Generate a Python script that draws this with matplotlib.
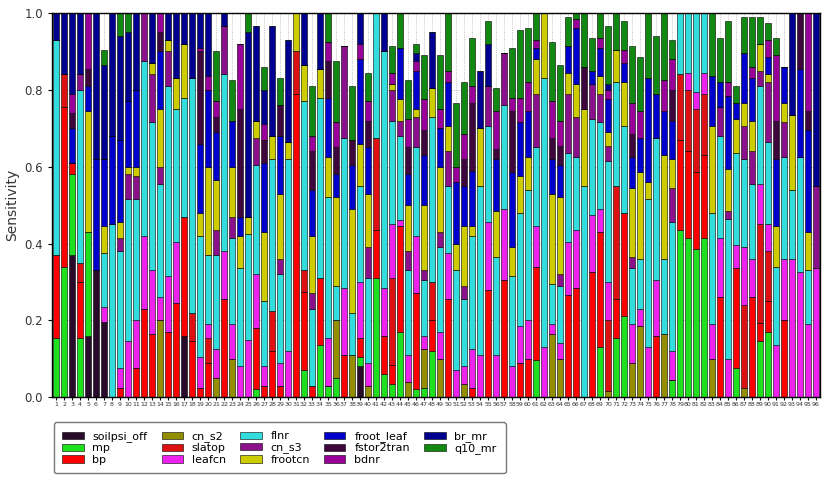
"""Stacked parameter sensitivity bars for 96 cases."""

import matplotlib
import matplotlib.pyplot as plt
import numpy as np

matplotlib.use("Agg")

N_BARS = 96
cases = np.arange(1, N_BARS + 1)

# parameter names, bottom of the stack first
params = ["soilpsi_off", "mp", "bp", "cn_s2", "slatop", "leafcn", "flnr",
          "cn_s3", "frootcn", "froot_leaf", "fstor2tran", "bdnr", "br_mr", "q10_mr"]
colors = ["#2a0a2a", "#1fe01f", "#ff0000", "#948f00", "#dd1111", "#ee22ee", "#33dddd",
          "#8b108b", "#cccc00", "#0000cc", "#3d063d", "#990099", "#000090", "#118811"]

# sensitivity of each parameter per case
soilpsi_off = [0, 0, .37, 0, .16, .33, .195, 0, 0, 0, 0, 0, 0, 0, 0, 0, .16, 0, 0, 0,
               0, 0, 0, 0, 0, 0, 0, 0, 0, 0, 0, 0, 0, 0, 0, 0, 0, 0, .08, 0,
               0, 0, 0, 0, 0, 0, 0, 0, 0, 0, 0, 0, 0, 0, 0, 0, 0, 0, 0, 0,
               0, 0, 0, 0, 0, 0, 0, 0, 0, 0, 0, 0, 0, 0, 0, 0, 0, 0, 0, 0,
               0, 0, 0, 0, 0, 0, 0, 0, 0, 0, 0, 0, 0, 0, 0, 0]
mp = [.155, .34, .21, .155, .27, 0, 0, 0, 0, 0, 0, 0, 0, 0, 0, 0, 0, 0, 0, 0,
      0, 0, 0, 0, 0, .02, 0, 0, 0, 0, 0, .07, 0, .135, .03, .05, 0, 0, .025, 0,
      .31, .06, .035, .17, 0, .02, .025, .12, 0, 0, 0, 0, 0, 0, 0, 0, 0, 0, 0, 0,
      .097, 0, 0, 0, 0, 0, 0, 0, .13, 0, .155, .21, 0, 0, 0, 0, 0, .045, .435, .415,
      .385, .415, 0, 0, 0, .075, 0, 0, .145, .17, 0, 0, 0, 0, 0, 0]
bp = [.215, .415, .03, .145, 0, 0, 0, 0, .025, 0, .075, .23, .165, 0, .17, .245, .31, .145, .025, .09,
      0, .255, 0, 0, 0, .16, .03, .12, .03, 0, .79, .205, .03, .175, 0, 0, .11, 0, .05, 0,
      .125, .10, .05, .275, 0, .25, 0, .08, 0, .255, 0, 0, .025, 0, .28, 0, .305, 0, .09, .10,
      .243, 0, 0, 0, .265, .285, 0, .325, .30, 0, .10, .27, 0, 0, 0, .16, 0, 0, .235, .225,
      .20, .215, 0, .26, 0, .26, 0, .26, .048, .08, 0, .20, 0, 0, 0, 0]
cn_s2 = [0, 0, 0, 0, 0, 0, 0, 0, 0, 0, 0, 0, 0, .20, 0, 0, 0, 0, 0, 0,
         .05, 0, .10, 0, 0, 0, 0, 0, 0, 0, 0, 0, 0, 0, 0, .15, 0, .11, 0, .03,
         0, 0, 0, 0, .04, 0, .10, 0, .10, 0, 0, .035, 0, 0, 0, 0, 0, 0, 0, 0,
         0, 0, .165, .10, 0, 0, 0, 0, 0, .015, 0, 0, .09, .185, 0, 0, .165, 0, 0, 0,
         0, 0, .10, 0, 0, 0, .025, 0, 0, 0, 0, 0, 0, 0, 0, 0]
slatop = [0, .085, 0, .05, 0, 0, 0, 0, 0, 0, 0, 0, 0, 0, 0, 0, 0, .075, 0, .065,
          0, 0, 0, 0, 0, 0, 0, .105, 0, 0, .11, .055, 0, 0, 0, 0, 0, 0, 0, 0,
          .24, 0, .225, 0, 0, 0, 0, .10, 0, 0, 0, 0, 0, 0, 0, 0, 0, 0, 0, 0,
          0, 0, 0, 0, 0, 0, 0, 0, 0, .185, .295, 0, 0, 0, 0, 0, 0, 0, .17, .16,
          .165, .16, 0, 0, 0, 0, .215, 0, .257, .13, 0, 0, 0, 0, 0, 0]
leafcn = [0, 0, 0, 0, 0, 0, .04, 0, .05, .145, .125, .19, .165, .06, .145, .16, 0, 0, .08, .035,
          .075, .125, .09, .08, .15, .14, .05, 0, .06, .12, 0, 0, 0, 0, .125, 0, .175, 0, .145, .06,
          0, .125, .14, .015, .07, .15, .035, 0, .07, .12, .07, .045, .10, .11, .175, .11, .185, .08, .095, .10,
          .105, .13, .025, .04, .14, .15, 0, .15, .06, .10, 0, 0, .10, .045, .13, .145, 0, .075, 0, .045,
          .045, .055, .09, .155, .10, .06, .15, .10, .105, .07, .135, .16, .36, .325, .19, .335]
flnr = [.56, 0, 0, .45, 0, 0, .14, .45, .305, .37, .315, .455, .385, .295, .495, .345, .31, .61, .315, .18,
        .245, .46, .225, .255, .275, .285, .17, .395, .23, .50, 0, .44, .20, .47, .365, .09, .39, .11, .25, .22,
        .325, .615, .27, .22, .22, .23, .145, .43, .22, .175, .26, .175, .295, .44, .25, .255, .27, .235, .295, .34,
        .205, .70, .105, .15, .23, .19, .55, .25, .225, .315, .27, .225, .145, .13, .385, .37, .195, .335, .16, .155,
        .205, .155, .29, .265, .365, .24, .23, .195, .255, .215, .205, .265, .18, .30, .14, 0]
cn_s3 = [0, 0, 0, .04, 0, 0, 0, 0, .035, .065, .06, .125, .125, .045, .09, 0, 0, 0, 0, 0,
         .065, .125, .055, 0, 0, .07, 0, 0, .04, 0, 0, 0, .04, 0, 0, 0, .24, 0, 0, .08,
         0, 0, .08, .04, .05, .08, .025, 0, .04, .09, 0, .035, 0, 0, .105, 0, .135, 0, 0, 0,
         .14, 0, 0, .03, .155, .105, 0, .09, .075, .04, 0, 0, .03, 0, 0, 0, 0, .09, 0, 0,
         0, 0, 0, .075, .02, 0, .085, .085, .04, .155, 0, .09, 0, 0, 0, .215]
frootcn = [0, 0, 0, 0, .315, 0, .07, 0, .04, .02, .025, 0, .03, .15, .03, .08, .14, 0, .06, .23,
           .13, 0, .13, .085, .045, .045, .18, .06, .17, .045, .10, .095, .15, .075, .105, .23, 0, .27, .11, .14,
           0, 0, .015, .055, .12, .02, .17, .075, .17, .065, .07, .155, .025, .15, 0, .12, 0, .075, .095, .085,
           .09, .17, .235, .20, .055, .085, .20, 0, .045, .035, .085, .115, .18, .225, .045, 0, .27, .075, 0, 0,
           0, 0, .225, 0, .11, .09, .06, .08, .07, .02, .105, .05, .195, 0, .10, 0]
froot_leaf = [0, 0, .09, 0, .065, .29, .175, .23, .215, .17, .20, 0, 0, .15, 0, 0, 0, 0, .18, .20,
              .125, 0, .12, .05, 0, 0, .18, 0, .15, 0, 0, 0, .12, 0, .155, .06, 0, .115, .22, .12,
              0, 0, 0, .135, .08, .10, .13, 0, .10, .115, .16, .105, .145, 0, 0, .135, 0, .195, .14, .12,
              .03, 0, .09, .085, .07, .145, 0, .035, .075, .085, 0, .05, .08, .09, .27, .115, .115, .10, 0, 0,
              0, 0, .13, .065, .19, .04, .13, .11, 0, .045, .175, .095, 0, .23, .265, 0]
fstor2tran = [0, 0, .04, 0, .045, 0, 0, 0, 0, 0, 0, 0, 0, .05, 0, 0, 0, 0, .24, 0,
              .04, 0, 0, .28, 0, 0, .06, 0, .08, 0, 0, 0, .10, 0, .095, .07, 0, .065, 0, .07,
              0, 0, 0, 0, .07, 0, .065, 0, 0, 0, 0, .07, .175, 0, 0, .025, 0, .16, 0, 0,
              0, 0, .055, .05, 0, 0, .11, 0, 0, 0, 0, 0, .06, 0, 0, 0, 0, .08, 0, 0,
              0, 0, 0, 0, 0, 0, 0, 0, 0, 0, .10, 0, 0, .145, .05, 0]
bdnr = [0, 0, .05, 0, .145, 0, 0, 0, 0, 0, 0, 0, 0, .05, 0, 0, 0, 0, .01, .035,
        .04, 0, 0, .17, 0, 0, .04, 0, 0, 0, 0, 0, .04, 0, .05, .065, 0, 0, .04, .05,
        0, 0, .03, 0, .075, .025, .08, 0, .05, .03, .04, .065, .045, 0, 0, .10, 0, .035, .065, .075,
        .02, 0, .095, .065, 0, .025, 0, 0, .025, .025, 0, .035, .08, .07, 0, 0, .08, .08, 0, 0,
        0, 0, 0, 0, .035, 0, 0, .03, 0, .045, .17, 0, 0, 0, .255, 0]
br_mr = [.07, .16, .21, .16, 0, .38, .245, .32, .27, .18, .20, 0, .13, 0, .07, .17, .08, .17, .09, .165,
         0, .035, 0, 0, .48, .245, .09, .285, 0, .265, 0, .135, 0, .145, 0, 0, 0, 0, .08, 0,
         0, .10, 0, 0, 0, .02, 0, .145, 0, 0, 0, 0, 0, .15, .11, 0, 0, 0, 0, 0,
         0, 0, 0, 0, 0, 0, 0, 0, 0, .015, 0, 0, 0, 0, 0, 0, 0, 0, 0, 0,
         0, 0, 0, 0, 0, 0, 0, 0, 0, 0, 0, 0, .265, 0, 0, .45]
q10_mr = [0, 0, 0, 0, 0, 0, .04, 0, .06, .05, 0, 0, 0, 0, 0, 0, 0, 0, 0, 0,
          .13, 0, .105, 0, .05, 0, .06, 0, .07, 0, 0, 0, .13, 0, .075, .16, 0, .14, 0, .075,
          0, 0, .07, .09, .10, .025, .115, 0, .14, .15, .165, .135, .125, 0, .06, .06, 0, .13, .175, .14,
          .07, 0, .155, .145, .075, .015, .14, .085, .065, .15, .095, .075, .15, .14, .17, .15, .175, .05, 0, 0,
          0, 0, .165, .115, .16, .045, .095, .13, .07, .045, .045, 0, 0, 0, 0, 0]

series = [soilpsi_off, mp, bp, cn_s2, slatop, leafcn, flnr,
          cn_s3, frootcn, froot_leaf, fstor2tran, bdnr, br_mr, q10_mr]


def main() -> None:
    fig = plt.figure(figsize=(8.27, 4.82), dpi=100)
    ax = fig.add_axes([0.0629, 0.176, 0.9286, 0.797])

    bottom = np.zeros(N_BARS)
    for name, color, values in zip(params, colors, series):
        values = np.asarray(values, dtype=float)
        ax.bar(cases, values, width=0.8, bottom=bottom, color=color,
               edgecolor="black", linewidth=0.4, label=name, zorder=2)
        bottom += values

    ax.set_xlim(0.5, N_BARS + 0.5)
    ax.set_ylim(0, 1.0)
    ax.set_xticks(cases)
    ax.set_xticklabels([str(c) for c in cases], fontsize=4.5, color="#333333")
    ax.set_yticks(np.arange(0, 1.01, 0.2))
    ax.set_yticklabels([f"{v:.1f}" for v in np.arange(0, 1.01, 0.2)], fontsize=8.5, color="#333333")
    ax.tick_params(axis="x", length=2, pad=1.5)
    ax.tick_params(axis="y", length=3)
    ax.set_ylabel("Sensitivity", fontsize=10, color="#333333", labelpad=4)
    ax.grid(True, color="#aaaaaa", linestyle=":", linewidth=0.6, zorder=0)
    ax.set_axisbelow(True)
    for spine in ax.spines.values():
        spine.set_linewidth(1.0)

    fig.legend(loc="upper left", bbox_to_anchor=(0.058, 0.135), ncol=5,
               fontsize=8, handlelength=1.9, handleheight=0.7,
               labelspacing=0.1, columnspacing=1.3, handletextpad=0.8,
               borderpad=0.8, frameon=True, fancybox=True, edgecolor="#555555")

    fig.savefig("out.png", dpi=100)
    plt.close(fig)


if __name__ == "__main__":
    main()
